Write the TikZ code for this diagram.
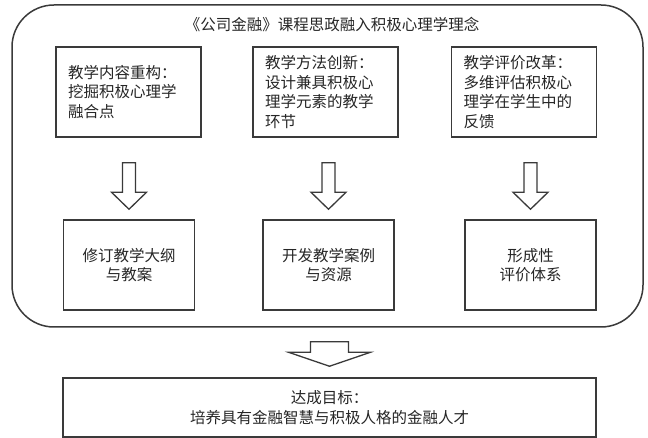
\documentclass[tikz,border=0pt]{standalone}
\usepackage{fontspec}
\setmainfont{Noto Sans CJK SC}
\usetikzlibrary{calc}
\definecolor{ink}{HTML}{3A3A3A}
\tikzset{
  x=1pt, y=1pt,
  every node/.style={font=\fontsize{15.5}{19.5}\selectfont, text=black!85},
  frame/.style={draw=ink, line width=1.5pt, rounded corners=42pt, minimum width=631pt, minimum height=322pt, inner sep=0pt},
  topbox/.style={draw=ink, line width=1.5pt, minimum width=145pt, minimum height=90pt, text width=121pt, inner xsep=12pt, align=left},
  botbox/.style={draw=ink, line width=1.5pt, minimum width=131pt, minimum height=90pt, align=center},
  goalbox/.style={draw=ink, line width=1.5pt, minimum width=533pt, minimum height=59pt, align=center},
  blockarr/.style={draw=ink, line width=1.3pt, fill=white, line join=miter},
}
% #1 start coordinate, #2 tip coordinate, #3 shaft half width, #4 head half width, #5 head length
\newcommand\myblockarrow[5]{%
  \draw[blockarr] let \p1=#1, \p2=#2 in
    (\x1-#3,\y1) -- (\x1-#3,\y2+#5) -- (\x1-#4,\y2+#5) -- (\x1,\y2)
    -- (\x1+#4,\y2+#5) -- (\x1+#3,\y2+#5) -- (\x1+#3,\y1) -- cycle;}
\begin{document}
\begin{tikzpicture}
\useasboundingbox (0,0) rectangle (648,-438);
\node[frame] (outer) at (327.5,-166) {};
\node (title) at (332,-25) {《公司金融》课程思政融入积极心理学理念};

\node[topbox] (t1) at (128.5,-92) {教学内容重构：\\挖掘积极心理学\\融合点};
\node[topbox] (t2) at (325.5,-92) {教学方法创新：\\设计兼具积极心\\理学元素的教学\\环节};
\node[topbox] (t3) at (524,-92) {教学评价改革：\\多维评估积极心\\理学在学生中的\\反馈};

\node[botbox] (b1) at (129,-265) {修订教学大纲\\与教案};
\node[botbox] (b2) at (328.5,-265) {开发教学案例\\与资源};
\node[botbox] (b3) at (530.5,-265) {形成性\\评价体系};

\node[goalbox] (goal) at (329.5,-407.5) {达成目标：\\培养具有金融智慧与积极人格的金融人才};

\coordinate (a1s) at ($(b1.north |- t1.south)+(0,-25)$);
\coordinate (a1e) at ($(b1.north)+(0,10)$);
\coordinate (a2s) at ($(b2.north |- t2.south)+(0,-25)$);
\coordinate (a2e) at ($(b2.north)+(0,10)$);
\coordinate (a3s) at ($(b3.north |- t3.south)+(0,-25)$);
\coordinate (a3e) at ($(b3.north)+(0,10)$);
\coordinate (a4s) at ($(goal.north |- outer.south)+(0,-14)$);
\coordinate (a4e) at ($(goal.north)+(0,11)$);

\myblockarrow{(a1s)}{(a1e)}{6.5}{17.5}{17}
\myblockarrow{(a2s)}{(a2e)}{6.5}{17.5}{17}
\myblockarrow{(a3s)}{(a3e)}{6.5}{17.5}{17}
\myblockarrow{(a4s)}{(a4e)}{19}{41}{14}
\end{tikzpicture}
\end{document}
